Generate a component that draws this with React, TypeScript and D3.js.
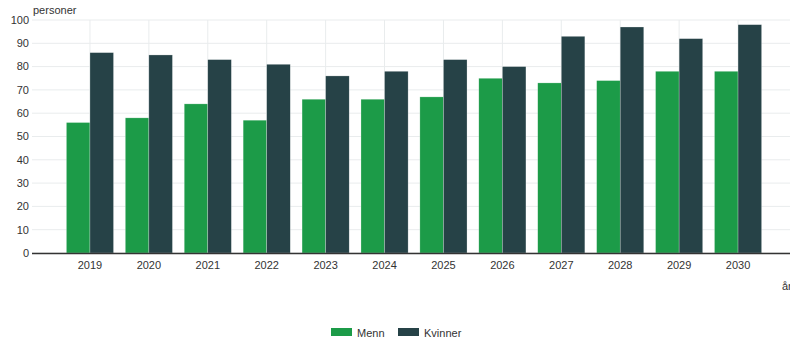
import React from "react";
import * as d3 from "d3";

const years = ["2019","2020","2021","2022","2023","2024","2025","2026","2027","2028","2029","2030"];
const menn = [56, 58, 64, 57, 66, 66, 67, 75, 73, 74, 78, 78];
const kvinner = [86, 85, 83, 81, 76, 78, 83, 80, 93, 97, 92, 98];
const yTicks = [0, 10, 20, 30, 40, 50, 60, 70, 80, 90, 100];
const seriesNames = ["Menn", "Kvinner"];
const colors = ["#1c9b48", "#264247"];

export default function App() {
  const W = 790, H = 341;
  const left = 32, right = 800, top = 20, bottom = 253;
  const x = d3.scaleBand<string>().domain(years).range([60.5, 767.5]).paddingInner(0).paddingOuter(0);
  const step = x.step();
  const groupPad = 0.2;
  const inner = d3.scaleBand<string>().domain(seriesNames).range([step * groupPad / 2, step * (1 - groupPad / 2)]);
  const y = d3.scaleLinear().domain([0, 100]).range([bottom, top]);
  const data = [menn, kvinner];
  const font = "'Liberation Sans', Arial, sans-serif";
  return (
    <svg width={W} height={H} style={{ position: "absolute", left: 0, top: 0, fontFamily: font }}>
      <rect width={W} height={H} fill="#fff" />
      {yTicks.map((t) => (
        <line key={"g" + t} x1={left} x2={right} y1={y(t)} y2={y(t)} stroke="#e9eced" strokeWidth={1} />
      ))}
      {years.map((yr) => (
        <line key={"v" + yr} x1={x(yr)! + step / 2} x2={x(yr)! + step / 2} y1={top} y2={bottom} stroke="#e9eced" strokeWidth={1} />
      ))}
      {yTicks.map((t) => (
        <text key={"t" + t} x={29} y={y(t)} dy="0.35em" textAnchor="end" fontSize={11} fill="#333">{t}</text>
      ))}
      <text x={33} y={14} fontSize={11} fill="#333">personer</text>
      {data.map((series, si) =>
        series.map((v, i) => (
          <rect
            key={si + "-" + i}
            x={x(years[i])! + inner(seriesNames[si])!}
            y={y(v)}
            width={inner.bandwidth()}
            height={y(0) - y(v)}
            fill={colors[si]}
            stroke="#ffffff"
            strokeOpacity={0.5}
            strokeWidth={0.5}
          />
        ))
      )}
      <line x1={left} x2={right} y1={bottom + 0.5} y2={bottom + 0.5} stroke="#333" strokeWidth={1.5} />
      {years.map((yr) => (
        <text key={"x" + yr} x={x(yr)! + step / 2} y={269} textAnchor="middle" fontSize={11} fill="#333">{yr}</text>
      ))}
      <text x={782} y={290} fontSize={11} fill="#333">år</text>
      {seriesNames.map((n, i) => {
        const lx = i === 0 ? 331 : 398;
        return (
          <g key={"l" + n}>
            <rect x={lx} y={328} width={21} height={8} fill={colors[i]} />
            <text x={lx + 26} y={336} dy="0.1em" fontSize={11} fill="#333">{n}</text>
          </g>
        );
      })}
    </svg>
  );
}
